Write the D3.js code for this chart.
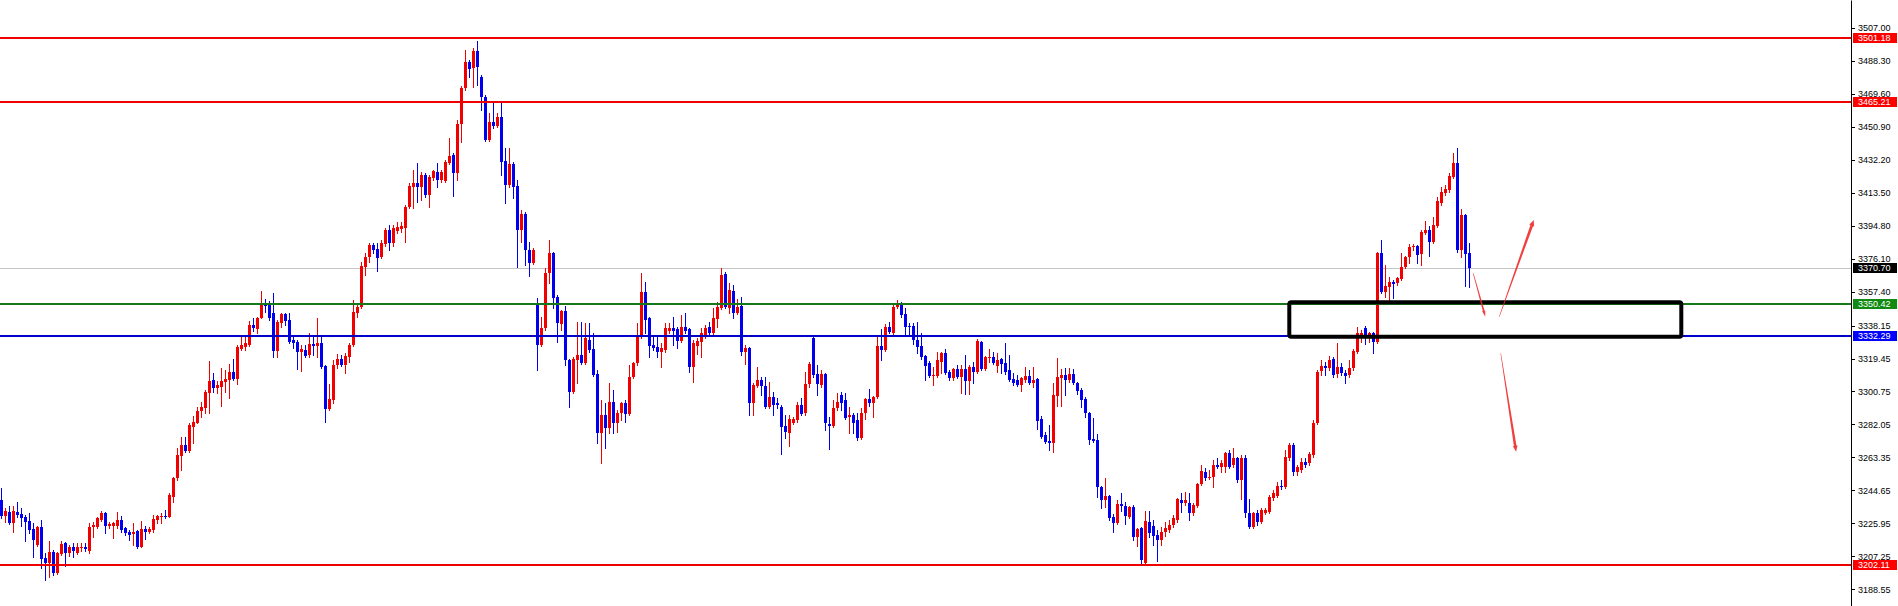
<!DOCTYPE html>
<html><head><meta charset="utf-8">
<script src="https://cdn.jsdelivr.net/npm/d3@7"></script>
<style>
html,body{margin:0;padding:0;background:#fff;overflow:hidden}
svg{display:block}
</style></head><body>
<svg id="chart" width="1898" height="606"></svg>
<script>
// ---- data (OHLC per bar) ----
const open = [
3239.2,3230.1,3232.3,3226.1,3232.3,3231.2,3229.5,3227.2,3222.7,3213.6,3223.8,3206.2,3203.4,3209.6,3197.7,3208.5,3214.7,3209.1,3212.5,3209.1,
3211.9,3212.5,3210.2,3223.8,3223.8,3227.8,3231.8,3224.4,3224.4,3224.4,3227.8,3223.3,3221.0,3219.9,3221.6,3212.5,3222.7,3221.0,3222.1,3227.8,
3229.5,3230.1,3229.5,3240.9,3251.6,3264.1,3270.4,3266.9,3280.6,3282.9,3289.7,3291.4,3299.9,3307.3,3302.7,3303.3,3306.1,3307.3,3311.8,3307.8,
3324.8,3326.0,3327.1,3338.5,3336.2,3342.4,3350.9,3350.9,3345.3,3323.7,3339.6,3344.7,3341.3,3329.9,3328.8,3323.1,3324.3,3321.4,3327.7,3326.5,
3328.2,3315.2,3290.8,3295.9,3315.8,3319.2,3315.8,3320.3,3327.1,3345.3,3348.7,3371.4,3377.0,3383.9,3381.6,3377.0,3384.4,3392.4,3385.0,3391.8,
3392.9,3393.5,3405.4,3416.8,3419.0,3416.8,3423.6,3412.2,3421.9,3425.3,3420.8,3420.2,3430.4,3434.9,3424.7,3452.5,3473.0,3487.7,3484.3,3494.0,
3479.2,3467.9,3443.5,3453.7,3451.4,3456.5,3431.5,3417.9,3429.8,3417.3,3392.4,3401.5,3381.0,3373.6,3350.9,3327.1,3336.8,3368.0,3379.3,3354.4,
3339.0,3346.4,3318.6,3300.4,3318.6,3321.4,3316.9,3329.9,3324.8,3310.7,3277.2,3287.4,3280.0,3294.8,3282.9,3288.5,3294.2,3287.9,3308.9,3316.9,
3331.6,3357.2,3342.4,3327.1,3326.0,3323.1,3324.3,3335.1,3336.8,3336.2,3329.4,3337.3,3336.2,3314.6,3326.5,3328.8,3332.8,3337.3,3333.9,3341.9,
3348.1,3367.4,3348.1,3357.8,3345.3,3349.3,3323.1,3325.4,3294.2,3303.8,3307.3,3303.8,3291.9,3297.6,3294.2,3291.9,3281.1,3277.2,3282.9,3284.6,
3293.1,3288.5,3305.0,3331.1,3310.7,3304.4,3310.7,3282.3,3281.1,3291.4,3298.7,3295.9,3286.2,3287.4,3284.6,3274.3,3288.5,3296.5,3294.2,3297.6,
3326.5,3324.3,3337.3,3333.9,3348.7,3350.9,3344.7,3337.9,3337.9,3329.9,3326.5,3320.9,3316.9,3309.5,3309.5,3317.5,3322.6,3311.8,3308.4,3313.5,
3308.9,3313.5,3306.7,3314.6,3311.8,3328.8,3313.5,3319.7,3320.3,3315.2,3319.2,3316.9,3312.9,3307.8,3307.3,3304.4,3307.3,3309.5,3305.6,3307.8,
3285.1,3276.0,3272.6,3271.5,3298.2,3308.4,3310.1,3307.3,3310.7,3305.6,3301.6,3296.5,3288.5,3273.8,3273.2,3246.5,3239.2,3241.4,3229.5,3226.1,
3236.9,3235.7,3229.5,3235.2,3218.2,3223.3,3203.4,3226.7,3224.4,3219.3,3216.4,3221.0,3222.1,3225.0,3227.8,3239.2,3237.4,3237.4,3231.8,3235.7,
3248.2,3255.0,3251.6,3252.2,3259.0,3257.9,3257.9,3265.8,3259.0,3263.0,3250.5,3263.0,3231.8,3223.8,3231.8,3226.7,3231.8,3232.3,3240.3,3241.4,
3247.1,3246.5,3263.0,3270.4,3255.0,3256.2,3260.7,3260.1,3264.7,3282.9,3312.4,3315.2,3314.1,3319.2,3310.7,3314.6,3311.2,3310.1,3314.1,3323.1,
3331.6,3336.8,3332.8,3333.9,3328.8,3379.3,3357.2,3360.0,3362.9,3362.3,3364.6,3371.4,3377.0,3382.7,3383.3,3378.8,3390.7,3392.4,3385.6,3394.6,
3407.7,3413.4,3415.1,3422.5,3430.4,3381.0,3400.9,3379.3];
const high = [
3246.0,3234.6,3235.7,3235.7,3238.0,3234.6,3230.6,3231.8,3226.1,3224.4,3227.8,3209.1,3215.9,3210.8,3209.6,3215.9,3215.2,3213.6,3214.7,3214.7,
3214.7,3214.7,3226.1,3226.7,3229.5,3232.9,3232.3,3226.7,3226.7,3232.3,3230.1,3223.8,3222.1,3226.1,3222.1,3227.2,3224.4,3223.8,3230.6,3230.6,
3231.8,3233.5,3243.1,3252.2,3268.7,3274.9,3274.9,3282.9,3286.8,3291.9,3294.8,3301.6,3318.0,3311.2,3306.7,3314.1,3312.9,3316.3,3319.2,3327.1,
3331.6,3331.6,3340.7,3342.4,3343.0,3357.8,3353.2,3352.1,3356.6,3341.3,3345.3,3345.3,3345.3,3332.8,3329.9,3327.1,3327.1,3333.9,3332.8,3342.4,
3331.6,3315.8,3305.0,3318.6,3322.0,3321.4,3322.6,3328.2,3352.7,3350.9,3374.2,3379.3,3385.0,3385.0,3385.0,3386.7,3393.5,3395.2,3395.2,3396.9,
3396.9,3406.6,3419.0,3426.4,3430.4,3425.3,3424.7,3423.6,3426.4,3430.4,3426.4,3432.1,3444.6,3436.1,3454.8,3474.1,3494.5,3488.9,3495.7,3499.6,
3480.3,3469.0,3458.8,3464.4,3458.8,3465.0,3438.9,3438.9,3431.0,3420.8,3403.7,3402.6,3385.6,3382.2,3353.8,3343.0,3370.8,3386.7,3379.9,3355.5,
3347.0,3349.3,3319.2,3320.3,3340.2,3340.2,3339.6,3339.6,3333.9,3312.9,3295.9,3294.2,3305.6,3301.6,3290.2,3294.8,3295.9,3315.8,3317.5,3339.6,
3368.0,3362.9,3343.0,3331.6,3331.6,3328.2,3339.6,3339.6,3343.0,3337.3,3344.1,3345.3,3336.8,3329.9,3331.1,3336.8,3338.5,3340.2,3348.1,3351.5,
3370.8,3368.5,3362.3,3361.2,3353.2,3354.4,3327.1,3326.0,3305.6,3314.6,3309.0,3309.0,3306.1,3300.4,3297.0,3293.1,3287.4,3287.4,3286.2,3294.8,
3297.0,3311.8,3317.5,3331.6,3315.8,3312.9,3311.2,3286.2,3295.9,3299.9,3300.4,3299.9,3291.9,3288.5,3288.5,3291.4,3297.0,3302.1,3298.2,3331.6,
3336.2,3339.0,3340.2,3349.8,3352.7,3351.5,3348.1,3339.6,3339.6,3340.2,3333.9,3321.4,3318.0,3314.6,3323.1,3323.1,3324.8,3312.9,3314.1,3315.8,
3315.8,3321.4,3315.8,3317.5,3330.5,3329.4,3320.9,3324.8,3323.1,3322.6,3319.7,3328.2,3321.4,3311.2,3310.1,3308.9,3314.6,3312.9,3314.6,3308.4,
3286.8,3277.7,3281.7,3305.6,3319.7,3313.5,3314.1,3314.1,3313.5,3306.1,3302.7,3297.6,3289.1,3285.7,3276.6,3247.1,3251.6,3242.0,3231.2,3239.2,
3243.1,3238.0,3235.7,3236.3,3223.3,3223.8,3232.9,3232.9,3227.8,3222.1,3223.8,3226.7,3227.8,3230.6,3240.3,3243.1,3243.7,3243.1,3237.4,3248.8,
3259.0,3257.3,3256.2,3261.8,3263.0,3261.8,3266.4,3267.5,3268.7,3263.6,3264.7,3264.7,3239.7,3232.3,3233.5,3234.6,3234.6,3242.0,3244.8,3249.4,
3250.5,3267.5,3271.5,3271.5,3259.0,3262.9,3262.9,3266.4,3284.6,3312.9,3318.6,3317.5,3320.9,3320.3,3328.2,3316.9,3312.9,3318.6,3324.8,3337.3,
3335.6,3337.9,3334.5,3334.5,3379.9,3386.7,3372.5,3365.7,3364.0,3365.7,3379.3,3377.6,3384.4,3384.4,3383.9,3392.4,3397.5,3394.6,3399.8,3411.1,
3416.8,3417.9,3424.7,3436.1,3438.9,3404.3,3401.5,3385.0];
const low = [
3228.9,3226.7,3225.5,3221.0,3229.5,3224.4,3215.9,3220.4,3206.8,3213.0,3200.6,3193.8,3195.5,3196.6,3197.2,3208.0,3201.7,3207.4,3206.8,3208.5,
3210.2,3210.2,3209.1,3218.2,3223.3,3227.2,3220.4,3223.3,3217.6,3223.3,3221.0,3219.3,3216.4,3213.6,3211.9,3212.5,3217.0,3220.4,3221.0,3226.1,
3226.1,3228.9,3229.5,3238.0,3250.5,3256.2,3266.4,3266.4,3271.5,3282.9,3286.2,3288.5,3288.5,3300.4,3299.9,3292.5,3300.4,3297.0,3307.3,3305.0,
3324.3,3324.3,3326.5,3335.1,3333.9,3342.4,3345.8,3341.3,3320.3,3320.3,3337.3,3338.5,3328.2,3325.4,3313.5,3312.4,3320.3,3320.3,3321.4,3320.3,
3314.1,3283.4,3290.2,3294.2,3314.1,3315.2,3311.2,3317.5,3326.5,3343.0,3348.1,3366.8,3374.2,3379.3,3369.1,3376.5,3383.3,3381.0,3383.3,3390.7,
3391.2,3385.6,3404.9,3404.9,3408.3,3409.4,3411.1,3405.4,3420.8,3416.8,3419.6,3419.6,3429.8,3411.7,3420.8,3442.3,3471.8,3479.2,3473.5,3474.7,
3460.5,3442.9,3442.9,3450.3,3450.8,3423.6,3407.7,3416.8,3410.5,3371.4,3385.6,3372.5,3366.3,3373.0,3312.9,3326.5,3335.6,3362.3,3348.1,3328.8,
3335.6,3315.8,3291.9,3299.8,3305.6,3316.3,3316.3,3323.1,3309.5,3271.5,3260.2,3268.7,3277.2,3277.2,3277.8,3284.6,3283.4,3287.4,3308.4,3315.8,
3331.1,3333.9,3320.3,3324.3,3320.3,3314.6,3323.1,3333.9,3327.1,3325.4,3328.8,3333.9,3311.8,3306.1,3322.0,3320.3,3331.1,3332.8,3332.8,3337.3,
3347.5,3348.1,3345.3,3342.4,3344.7,3321.4,3316.3,3287.4,3287.4,3303.3,3298.7,3291.4,3291.4,3287.4,3291.4,3265.2,3274.3,3269.8,3282.3,3283.4,
3287.4,3287.4,3303.3,3309.0,3298.7,3303.3,3278.9,3268.1,3280.6,3290.2,3290.2,3285.1,3277.2,3277.2,3273.2,3273.8,3285.1,3292.5,3286.2,3297.0,
3318.6,3323.7,3333.9,3333.4,3348.1,3343.0,3332.8,3332.8,3327.7,3322.6,3319.2,3307.3,3309.0,3304.4,3309.0,3311.2,3310.6,3307.3,3307.3,3308.4,
3299.9,3299.3,3299.3,3305.6,3311.2,3312.9,3312.9,3317.5,3316.3,3311.8,3311.2,3310.7,3306.7,3304.4,3303.8,3301.0,3306.1,3305.0,3303.3,3279.4,
3274.3,3271.5,3267.5,3266.4,3292.5,3292.5,3298.7,3306.1,3305.0,3299.3,3291.9,3286.2,3270.9,3272.1,3240.9,3234.6,3235.2,3227.8,3221.0,3225.5,
3232.9,3225.5,3228.9,3216.4,3213.0,3203.4,3202.3,3218.2,3213.6,3204.5,3213.6,3218.7,3221.0,3223.8,3226.7,3232.3,3236.3,3227.8,3230.6,3235.2,
3247.7,3250.5,3251.1,3246.5,3257.3,3255.0,3255.0,3257.3,3257.9,3249.4,3239.7,3229.5,3223.3,3223.3,3225.0,3226.1,3231.2,3231.8,3239.2,3240.9,
3245.4,3246.0,3261.8,3253.3,3253.3,3255.0,3257.9,3259.0,3263.6,3282.3,3310.1,3310.1,3312.9,3309.0,3309.0,3310.1,3305.6,3309.0,3312.9,3322.6,
3328.8,3327.7,3328.8,3322.6,3328.2,3356.6,3354.4,3352.7,3353.8,3361.2,3364.0,3370.8,3373.6,3381.0,3373.6,3372.5,3390.1,3377.6,3385.0,3394.1,
3406.6,3412.2,3413.9,3421.9,3379.9,3377.1,3360.6,3360.0];
const close = [
3230.1,3232.9,3226.1,3232.9,3230.6,3228.9,3226.7,3222.1,3216.4,3223.8,3205.7,3203.4,3209.6,3197.7,3209.1,3214.2,3209.1,3212.5,3210.2,3212.5,
3212.5,3211.3,3223.8,3225.0,3228.9,3231.8,3224.4,3225.5,3226.1,3227.8,3222.1,3220.4,3219.3,3221.0,3212.5,3222.7,3221.0,3222.7,3228.4,3230.1,
3230.1,3229.5,3242.0,3251.6,3264.7,3270.4,3266.9,3281.7,3283.4,3289.7,3291.9,3300.4,3306.7,3302.7,3304.4,3306.7,3307.8,3311.8,3307.8,3326.0,
3327.1,3328.2,3338.5,3336.8,3342.4,3350.9,3349.3,3342.4,3323.7,3340.2,3344.7,3340.7,3328.8,3328.2,3323.1,3324.8,3320.9,3327.7,3326.5,3328.2,
3314.6,3290.8,3296.5,3315.8,3319.2,3315.8,3320.9,3327.1,3345.8,3348.7,3371.9,3377.0,3383.9,3381.0,3376.5,3385.0,3392.4,3385.0,3393.5,3394.1,
3394.6,3405.4,3417.3,3419.0,3416.8,3423.6,3412.2,3422.5,3425.9,3420.8,3425.3,3431.0,3434.4,3424.7,3452.5,3473.0,3487.7,3483.7,3494.0,3484.9,
3467.9,3443.5,3453.7,3451.4,3456.5,3431.0,3417.9,3429.8,3416.8,3392.4,3401.5,3381.0,3373.6,3381.0,3327.1,3336.8,3368.0,3379.3,3353.8,3339.6,
3346.4,3318.6,3300.4,3319.2,3321.4,3316.9,3331.1,3324.3,3310.1,3277.2,3287.4,3280.0,3294.8,3282.9,3288.5,3294.2,3287.9,3308.9,3316.9,3331.6,
3357.2,3341.3,3326.5,3325.4,3323.1,3325.4,3336.8,3336.8,3335.1,3329.4,3337.3,3335.1,3314.6,3328.2,3329.4,3333.9,3336.8,3333.9,3342.4,3348.7,
3366.8,3348.7,3358.3,3345.3,3348.7,3323.1,3325.4,3294.2,3304.4,3307.3,3303.8,3291.9,3297.6,3293.1,3293.1,3280.6,3277.7,3285.1,3285.1,3293.1,
3288.0,3305.0,3316.3,3310.1,3305.0,3310.7,3282.9,3281.1,3291.4,3294.8,3294.2,3285.7,3287.4,3282.9,3274.3,3288.5,3296.5,3294.2,3297.6,3326.5,
3324.3,3337.3,3334.5,3348.7,3350.9,3344.1,3337.3,3337.3,3329.9,3326.0,3320.3,3315.2,3309.5,3310.1,3318.6,3322.6,3311.2,3308.4,3313.5,3308.9,
3313.5,3306.7,3314.6,3311.8,3329.4,3313.5,3320.3,3320.3,3316.9,3318.6,3316.3,3311.8,3307.3,3305.6,3304.4,3308.4,3309.5,3305.6,3307.3,3284.0,
3274.9,3272.1,3271.5,3298.7,3308.9,3310.1,3307.3,3310.7,3305.6,3301.0,3295.9,3288.5,3273.2,3272.6,3246.5,3239.2,3241.4,3228.9,3226.1,3236.9,
3235.7,3230.1,3235.2,3218.2,3222.7,3205.1,3227.2,3220.4,3218.7,3216.4,3221.0,3223.3,3225.0,3228.9,3239.7,3237.4,3239.2,3231.8,3236.3,3248.2,
3255.6,3251.6,3252.2,3259.0,3257.9,3260.1,3265.8,3257.9,3263.0,3250.5,3263.0,3231.8,3223.8,3231.8,3226.7,3233.5,3233.5,3240.9,3243.1,3247.1,
3246.5,3263.6,3270.4,3255.0,3257.9,3260.7,3259.0,3265.3,3282.9,3311.8,3315.2,3314.1,3318.6,3310.1,3314.6,3311.2,3309.5,3314.1,3323.7,3333.9,
3333.9,3332.8,3333.9,3328.8,3379.3,3357.2,3360.6,3362.9,3361.7,3365.1,3371.4,3377.0,3382.7,3383.3,3378.2,3391.2,3392.4,3385.6,3395.2,3408.8,
3413.9,3415.6,3423.0,3430.4,3381.0,3400.9,3378.8,3370.7];

const tickValues = [3507.00,3488.30,3469.60,3450.90,3432.20,3413.50,3394.80,3376.10,3357.40,3338.15,
                    3319.45,3300.75,3282.05,3263.35,3244.65,3225.95,3207.25,3188.55];
const redLevels = [3501.18, 3465.21, 3202.11];
const greenLevel = 3350.42;
const blueLevel = 3332.29;
const lastPrice = 3370.70;
// annotation (bar index, price)
const zoneBars = [322, 420];
const zonePrices = [3351.4, 3331.8];
const arrowStarts = [[367.99, 3367.8], [374.5, 3343.2], [374.85, 3322.4]];
const arrowEnds   = [[371.0, 3343.2], [383.1, 3398.05], [378.7, 3266.6]];

// ---- drawing ----
const W = 1898, H = 606, axisX = 1851;
const svg = d3.select("#chart");
const x = d3.scaleLinear().domain([0, 1]).range([1.3, 5.3]);
const y = d3.scaleLinear().domain([3179.0, 3522.9]).range([H, 0]);
const RED = "#f20000", BLUE = "#0000ee";
const FONT = "'Liberation Sans', Arial, sans-serif";

svg.append("rect").attr("width", W).attr("height", H).attr("fill", "#fff");

// last price (bid) line, behind
svg.append("line").attr("x1", 0).attr("x2", axisX).attr("y1", Math.round(y(lastPrice)) + 0.5).attr("y2", Math.round(y(lastPrice)) + 0.5)
  .attr("stroke", "#c4c4c4").attr("stroke-width", 1);

// candles
const bars = d3.range(close.length);
const g = svg.append("g").attr("shape-rendering", "crispEdges");
const col = i => close[i] >= open[i] ? RED : BLUE;
g.selectAll("line.w").data(bars).join("line").attr("class", "w")
  .attr("x1", i => Math.round(x(i)) + 0.5).attr("x2", i => Math.round(x(i)) + 0.5)
  .attr("y1", i => Math.round(y(high[i]))).attr("y2", i => Math.round(y(low[i])) + 1)
  .attr("stroke", col).attr("stroke-width", 1);
g.selectAll("rect.b").data(bars).join("rect").attr("class", "b")
  .attr("x", i => Math.round(x(i)) - 1).attr("width", 3)
  .attr("y", i => Math.round(y(Math.max(open[i], close[i]))))
  .attr("height", i => Math.max(1, Math.round(y(Math.min(open[i], close[i]))) - Math.round(y(Math.max(open[i], close[i])))))
  .attr("fill", col);

// horizontal levels (foreground)
const levels = [
  ...redLevels.map(v => ({v, c: "#ee0000"})),
  {v: greenLevel, c: "#17781a"},
  {v: blueLevel, c: "#0000c8"}
];
svg.append("g").attr("shape-rendering", "crispEdges").selectAll("line").data(levels).join("line")
  .attr("x1", 0).attr("x2", axisX).attr("y1", d => Math.round(y(d.v))).attr("y2", d => Math.round(y(d.v)))
  .attr("stroke", d => d.c).attr("stroke-width", 2);

// zone rectangle
svg.append("rect")
  .attr("x", x(zoneBars[0])).attr("width", x(zoneBars[1]) - x(zoneBars[0]))
  .attr("y", y(zonePrices[0])).attr("height", y(zonePrices[1]) - y(zonePrices[0]))
  .attr("rx", 2).attr("fill", "none").attr("stroke", "#000").attr("stroke-width", 4);

// tapered arrows
const arrowW = [[0.6, 1.8, 1.6], [0.5, 2.8, 2.6], [0.5, 2.6, 2.4]];
arrowStarts.forEach((s, k) => {
  const S = [x(s[0]), y(s[1])], E = [x(arrowEnds[k][0]), y(arrowEnds[k][1])];
  const dx = E[0] - S[0], dy = E[1] - S[1], L = Math.hypot(dx, dy);
  const ux = dx / L, uy = dy / L, nx = -uy, ny = ux;
  const [w0, w1, hw] = arrowW[k];
  const hl = 6;
  const B = [E[0] - ux * hl, E[1] - uy * hl];
  const pts = [
    [S[0] + nx * w0 / 2, S[1] + ny * w0 / 2],
    [B[0] + nx * w1 / 2, B[1] + ny * w1 / 2],
    [B[0] + nx * hw, B[1] + ny * hw],
    E,
    [B[0] - nx * hw, B[1] - ny * hw],
    [B[0] - nx * w1 / 2, B[1] - ny * w1 / 2],
    [S[0] - nx * w0 / 2, S[1] - ny * w0 / 2]
  ];
  svg.append("polygon").attr("points", pts.map(p => p.join(",")).join(" "))
    .attr("fill", "#ef2a2a").attr("opacity", 0.9);
});

// price axis
svg.append("rect").attr("x", axisX + 1).attr("y", 0).attr("width", W - axisX - 1).attr("height", H).attr("fill", "#fff");
const axis = d3.axisRight(y).tickValues(tickValues).tickSize(4).tickSizeOuter(0).tickPadding(3).tickFormat(d3.format(".2f"));
const ag = svg.append("g").attr("transform", `translate(${axisX},0)`).call(axis);
ag.attr("font-family", FONT).attr("font-size", 9);
ag.select(".domain").attr("stroke", "#000");
ag.selectAll(".tick line").attr("stroke", "#000").attr("shape-rendering", "crispEdges");
ag.selectAll(".tick text").attr("fill", "#000");

// price tags
const tags = [
  ...redLevels.map(v => ({v, c: "#ff0000"})),
  {v: lastPrice, c: "#000000"},
  {v: greenLevel, c: "#108a10"},
  {v: blueLevel, c: "#0000ff"}
];
const tg = svg.append("g");
tg.selectAll("rect").data(tags).join("rect")
  .attr("x", axisX + 2).attr("width", 44).attr("y", d => Math.round(y(d.v)) - 5).attr("height", 10)
  .attr("fill", d => d.c).attr("shape-rendering", "crispEdges");
tg.selectAll("text").data(tags).join("text")
  .attr("x", axisX + 7).attr("y", d => y(d.v)).attr("dy", "0.33em")
  .attr("font-family", FONT).attr("font-size", 9).attr("fill", "#fff")
  .text(d => d3.format(".2f")(d.v));
</script>
</body></html>
